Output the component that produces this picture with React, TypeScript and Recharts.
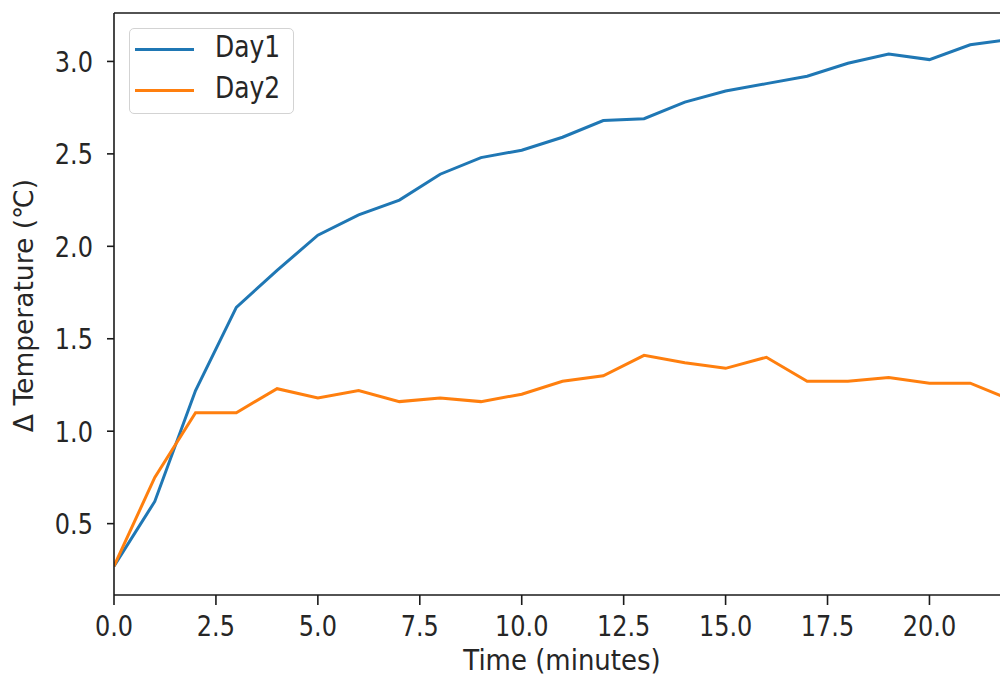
import { LineChart, Line, XAxis, YAxis, Legend, ReferenceLine, Label } from "recharts";

const minutes = [0, 1, 2, 3, 4, 5, 6, 7, 8, 9, 10, 11, 12, 13, 14, 15, 16, 17, 18, 19, 20, 21, 22];
const day1 = [0.27, 0.62, 1.22, 1.67, 1.87, 2.06, 2.17, 2.25, 2.39, 2.48, 2.52, 2.59, 2.68, 2.69, 2.78, 2.84, 2.88, 2.92, 2.99, 3.04, 3.01, 3.09, 3.12];
const day2 = [0.27, 0.75, 1.1, 1.1, 1.23, 1.18, 1.22, 1.16, 1.18, 1.16, 1.2, 1.27, 1.3, 1.41, 1.37, 1.34, 1.4, 1.27, 1.27, 1.29, 1.26, 1.26, 1.17];
const xTicks = [0, 2.5, 5, 7.5, 10, 12.5, 15, 17.5, 20];
const yTicks = [0.5, 1.0, 1.5, 2.0, 2.5, 3.0];

const Y_MIN = 0.114;
const Y_MAX = 3.262;
const FONT = "'DejaVu Sans', sans-serif";
const INK = "#262626";
const SPINE = "#1a1a1a";
// text in this figure is drawn a little taller than it is wide
const STRETCH = 1.18;

const data = minutes.map((t, i) => ({ time: t, Day1: day1[i], Day2: day2[i] }));

const XTick = ({ x, payload }: any) => (
  <text
    transform={`translate(${x},636) scale(1,${STRETCH})`}
    textAnchor="middle"
    fill={INK}
    fontFamily={FONT}
    fontSize={24}
  >
    {Number(payload.value).toFixed(1)}
  </text>
);

const YTick = ({ y, payload }: any) => (
  <text
    transform={`translate(93,${y + 10.5}) scale(1,${STRETCH})`}
    textAnchor="end"
    fill={INK}
    fontFamily={FONT}
    fontSize={24}
  >
    {Number(payload.value).toFixed(1)}
  </text>
);

const LegendBox = ({ payload }: any) => (
  <div
    style={{
      position: "relative",
      boxSizing: "border-box",
      width: 165,
      height: 86,
      border: "1.5px solid #d3d3d3",
      borderRadius: 5,
      background: "rgba(255,255,255,0.85)",
      fontFamily: FONT,
      fontSize: 25,
      color: INK,
    }}
  >
    {(payload || []).map((p: any, i: number) => (
      <div key={p.value}>
        <span
          style={{
            position: "absolute",
            left: 5,
            top: 18.5 + i * 41,
            width: 59,
            height: 3.5,
            background: p.color,
          }}
        />
        <span
          style={{
            position: "absolute",
            left: 85,
            top: 4 + i * 41,
            lineHeight: "30px",
            transform: `scale(1,${STRETCH})`,
            transformOrigin: "left center",
          }}
        >
          {p.value}
        </span>
      </div>
    ))}
  </div>
);

const App = () => {
  return (
    <div style={{ position: "fixed", left: 0, top: 0, width: 1000, height: 678, overflow: "hidden", background: "#fff" }}>
      <LineChart width={1011} height={678} data={data} margin={{ top: 13, right: 0, left: 0, bottom: 0 }}>
        <XAxis
          dataKey="time"
          type="number"
          domain={[0, 22]}
          ticks={xTicks}
          height={83}
          tickSize={10}
          stroke={SPINE}
          strokeWidth={1.6}
          tick={<XTick />}
          allowDataOverflow
        >
          <Label
            content={() => (
              <text
                transform={`translate(562,670) scale(1,1.1)`}
                textAnchor="middle"
                fill={INK}
                fontFamily={FONT}
                fontSize={26}
              >
                Time (minutes)
              </text>
            )}
          />
        </XAxis>
        <YAxis
          type="number"
          domain={[Y_MIN, Y_MAX]}
          ticks={yTicks}
          width={114}
          tickSize={7}
          stroke={SPINE}
          strokeWidth={1.6}
          tick={<YTick />}
          allowDataOverflow
        >
          <Label
            content={() => (
              <text
                transform="translate(33,305.5) rotate(-90)"
                textAnchor="middle"
                fill={INK}
                fontFamily={FONT}
                fontSize={26.5}
              >
                Δ Temperature (℃)
              </text>
            )}
          />
        </YAxis>
        <ReferenceLine y={Y_MAX} stroke={SPINE} strokeWidth={1.6} />
        <Legend
          layout="vertical"
          align="center"
          verticalAlign="middle"
          wrapperStyle={{ top: 28, left: 129, width: "auto" }}
          content={<LegendBox />}
        />
        <Line type="linear" dataKey="Day1" stroke="#1f77b4" strokeWidth={3} dot={false} isAnimationActive={false} />
        <Line type="linear" dataKey="Day2" stroke="#ff7f0e" strokeWidth={3} dot={false} isAnimationActive={false} />
      </LineChart>
    </div>
  );
};

export default App;
